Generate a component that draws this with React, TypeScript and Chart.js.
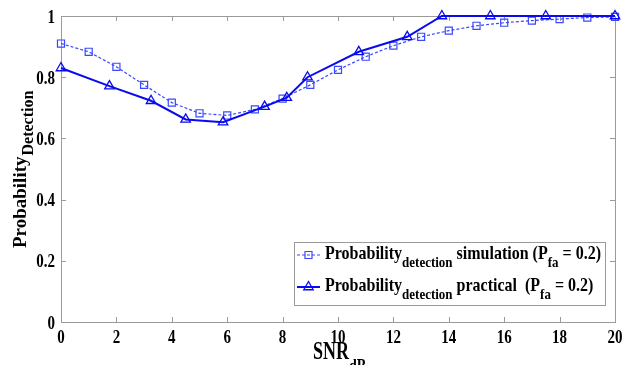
import React, { useEffect, useRef } from "react";
import { Chart, registerables } from "chart.js";
Chart.register(...registerables);

const simX = [0, 1, 2, 3, 4, 5, 6, 7, 8, 9, 10, 11, 12, 13, 14, 15, 16, 17, 18, 19, 20];
const simY = [0.91, 0.883, 0.834, 0.775, 0.717, 0.682, 0.675, 0.695, 0.73, 0.775, 0.824, 0.867, 0.903, 0.932, 0.952, 0.968, 0.978, 0.985, 0.99, 0.995, 0.997];
const pracX = [0, 1.75, 3.25, 4.5, 5.85, 7.35, 8.15, 8.9, 10.75, 12.5, 13.75, 15.5, 17.5, 20];
const pracY = [0.83, 0.771, 0.723, 0.662, 0.653, 0.704, 0.733, 0.8, 0.883, 0.932, 1, 1, 1, 1];
const xTicks = [0, 2, 4, 6, 8, 10, 12, 14, 16, 18, 20];
const yTicks = [0, 0.2, 0.4, 0.6, 0.8, 1];
const xTickLabels = ["0", "2", "4", "6", "8", "10", "12", "14", "16", "18", "20"];
const yTickLabels = ["0", "0.2", "0.4", "0.6", "0.8", "1"];

const SIM_COLOR = "#3a48ff";
const PRAC_COLOR = "#0a0aee";
const AXIS_COLOR = "#9a9a9a";
const FONT = '"Liberation Serif", "Times New Roman", serif';

function drawTriangle(ctx: CanvasRenderingContext2D, x: number, y: number, r: number) {
  ctx.beginPath();
  ctx.moveTo(x, y - r);
  ctx.lineTo(x + r * 0.866, y + r / 2);
  ctx.lineTo(x - r * 0.866, y + r / 2);
  ctx.closePath();
  ctx.stroke();
}

function drawSquare(ctx: CanvasRenderingContext2D, x: number, y: number, s: number) {
  ctx.beginPath();
  ctx.rect(x - s / 2, y - s / 2, s, s);
  ctx.stroke();
}

function stretchText(ctx: CanvasRenderingContext2D, t: string, x: number, y: number, size: number, sy: number, align: CanvasTextAlign = "left") {
  ctx.save();
  ctx.font = `bold ${size}px ${FONT}`;
  ctx.textAlign = align;
  ctx.textBaseline = "alphabetic";
  ctx.translate(x, y);
  ctx.scale(1, sy);
  ctx.fillText(t, 0, 0);
  ctx.restore();
}

function drawParts(ctx: CanvasRenderingContext2D, x: number, y: number, parts: [string, boolean][], mainSize: number, subSize: number, subOff: number, sy: number) {
  let cx = x;
  for (const [t, sub] of parts) {
    const size = sub ? subSize : mainSize;
    stretchText(ctx, t, cx, y + (sub ? subOff : 0), size, sy);
    ctx.font = `bold ${size}px ${FONT}`;
    cx += ctx.measureText(t).width;
  }
}

const decorPlugin = {
  id: "decor",
  beforeDatasetsDraw(chart: any) {
    const ctx = chart.ctx as CanvasRenderingContext2D;
    const { left, right, top, bottom } = chart.chartArea;
    const xs = chart.scales.x;
    const ys = chart.scales.y;
    ctx.save();
    ctx.strokeStyle = AXIS_COLOR;
    ctx.lineWidth = 1;
    ctx.strokeRect(Math.round(left) + 0.5, Math.round(top) + 0.5, Math.round(right - left), Math.round(bottom - top));
    const tl = 5;
    ctx.beginPath();
    for (const v of xTicks) {
      const px = Math.round(xs.getPixelForValue(v)) + 0.5;
      ctx.moveTo(px, bottom);
      ctx.lineTo(px, bottom - tl);
      ctx.moveTo(px, top);
      ctx.lineTo(px, top + tl);
    }
    for (const v of yTicks) {
      const py = Math.round(ys.getPixelForValue(v)) + 0.5;
      ctx.moveTo(left, py);
      ctx.lineTo(left + tl, py);
      ctx.moveTo(right, py);
      ctx.lineTo(right - tl, py);
    }
    ctx.stroke();

    // tick labels (vertically stretched like the reference)
    ctx.fillStyle = "#000";
    xTicks.forEach((v, i) => {
      stretchText(ctx, xTickLabels[i], xs.getPixelForValue(v), bottom + 20.5, 15, 1.3, "center");
    });
    yTicks.forEach((v, i) => {
      stretchText(ctx, yTickLabels[i], left - 6, ys.getPixelForValue(v) + 6.5, 15, 1.3, "right");
    });
    ctx.restore();
  },
  afterDraw(chart: any) {
    const ctx = chart.ctx as CanvasRenderingContext2D;
    ctx.save();

    // Legend
    const lx = 294, ly = 242, lw = 311, lh = 63;
    ctx.fillStyle = "#fff";
    ctx.fillRect(lx, ly, lw, lh);
    ctx.strokeStyle = AXIS_COLOR;
    ctx.lineWidth = 1;
    ctx.strokeRect(lx + 0.5, ly + 0.5, lw, lh);

    ctx.strokeStyle = SIM_COLOR;
    ctx.lineWidth = 1.2;
    ctx.setLineDash([3, 2]);
    ctx.beginPath();
    ctx.moveTo(297, 255);
    ctx.lineTo(320, 255);
    ctx.stroke();
    ctx.setLineDash([]);
    drawSquare(ctx, 308.5, 255, 7);

    ctx.strokeStyle = PRAC_COLOR;
    ctx.lineWidth = 2;
    ctx.beginPath();
    ctx.moveTo(297, 287);
    ctx.lineTo(320, 287);
    ctx.stroke();
    ctx.lineWidth = 1.3;
    drawTriangle(ctx, 308.5, 287, 5.5);

    ctx.fillStyle = "#000";
    drawParts(ctx, 325, 259, [["Probability", false], ["detection", true], [" simulation (P", false], ["fa", true], [" = 0.2)", false]], 16, 13, 8, 1.2);
    drawParts(ctx, 325, 291, [["Probability", false], ["detection", true], [" practical  (P", false], ["fa", true], [" = 0.2)", false]], 16, 13, 8, 1.2);

    // X title
    drawParts(ctx, 313, 359, [["SNR", false], ["dB", true]], 18, 14, 13, 1.35);

    // Y title
    ctx.translate(26, 248);
    ctx.rotate(-Math.PI / 2);
    ctx.font = `bold 19px ${FONT}`;
    ctx.textAlign = "left";
    ctx.textBaseline = "alphabetic";
    ctx.fillText("Probability", 0, 0);
    const w = ctx.measureText("Probability").width;
    ctx.font = `bold 16px ${FONT}`;
    ctx.fillText("Detection", w + 1, 7);
    ctx.restore();
  },
};

export default function App() {
  const ref = useRef<HTMLCanvasElement | null>(null);
  useEffect(() => {
    if (!ref.current) return;
    const chart = new Chart(ref.current, {
      type: "line",
      data: {
        datasets: [
          {
            label: "Probability detection practical (Pfa = 0.2)",
            data: pracX.map((x, i) => ({ x, y: pracY[i] })),
            borderColor: PRAC_COLOR,
            borderWidth: 2,
            pointStyle: "triangle",
            pointRadius: 5.5,
            pointBorderWidth: 1.3,
            pointBackgroundColor: "rgba(0,0,0,0)",
            pointBorderColor: PRAC_COLOR,
            fill: false,
            tension: 0,
            clip: false as any,
            order: 0,
          },
          {
            label: "Probability detection simulation (Pfa = 0.2)",
            data: simX.map((x, i) => ({ x, y: simY[i] })),
            borderColor: SIM_COLOR,
            borderWidth: 1.2,
            borderDash: [3, 2],
            pointStyle: "rect",
            pointRadius: 5,
            pointBorderWidth: 1.2,
            pointBackgroundColor: "rgba(0,0,0,0)",
            pointBorderColor: SIM_COLOR,
            fill: false,
            tension: 0,
            clip: false as any,
            order: 1,
          },
        ],
      },
      options: {
        responsive: false,
        animation: false,
        layout: { padding: { top: 16, right: 12, left: 0, bottom: 0 } },
        plugins: { legend: { display: false }, tooltip: { enabled: false } },
        scales: {
          x: {
            type: "linear",
            min: 0,
            max: 20,
            grid: { display: false, drawTicks: false },
            border: { display: false },
            afterBuildTicks: (s: any) => {
              s.ticks = xTicks.map((v) => ({ value: v }));
            },
            afterFit: (s: any) => {
              s.height = 43;
            },
            ticks: { display: false },
          },
          y: {
            type: "linear",
            min: 0,
            max: 1,
            grid: { display: false, drawTicks: false },
            border: { display: false },
            afterBuildTicks: (s: any) => {
              s.ticks = yTicks.map((v) => ({ value: v }));
            },
            afterFit: (s: any) => {
              s.width = 61;
            },
            ticks: { display: false },
          },
        },
      },
      plugins: [decorPlugin],
    });
    return () => chart.destroy();
  }, []);
  return (
    <div style={{ position: "absolute", left: 0, top: 0, width: 627, height: 365, background: "#fff" }}>
      <canvas ref={ref} width={627} height={365} />
    </div>
  );
}
